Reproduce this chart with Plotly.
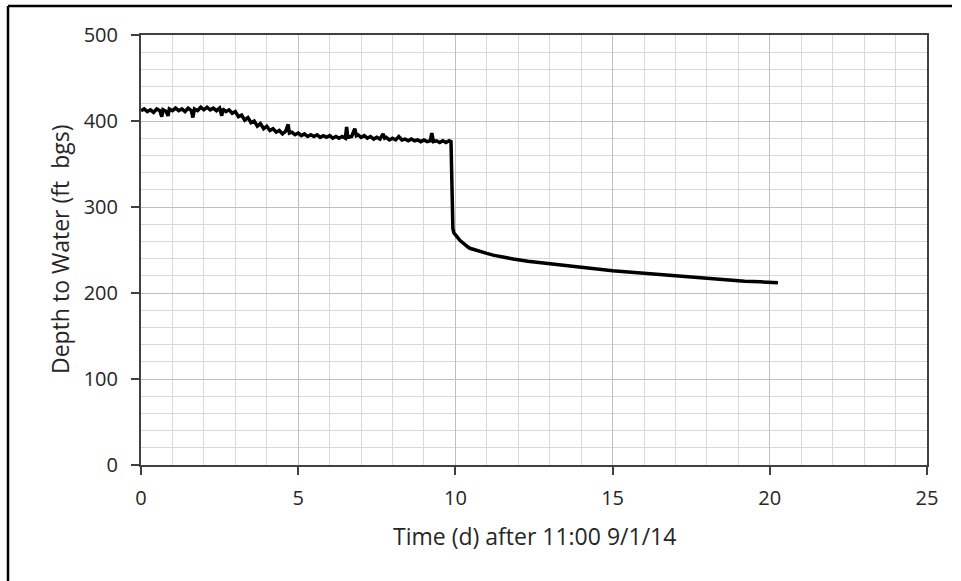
import plotly.graph_objects as go

# Time (days after 11:00 9/1/14)
time_d = [
    0.00, 0.10, 0.20, 0.30, 0.40, 0.50, 0.60, 0.66, 0.70, 0.80, 0.86, 0.90,
    1.00, 1.10, 1.20, 1.30, 1.40, 1.50, 1.60, 1.65, 1.70, 1.80, 1.90,
    2.00, 2.10, 2.20, 2.30, 2.40, 2.50, 2.57, 2.60, 2.70, 2.80, 2.90,
    3.00, 3.10, 3.20, 3.30, 3.40, 3.50, 3.60, 3.70, 3.80, 3.90,
    4.00, 4.10, 4.20, 4.30, 4.40, 4.50, 4.60, 4.68, 4.72, 4.80, 4.90,
    5.00, 5.10, 5.20, 5.30, 5.40, 5.50, 5.60, 5.70, 5.80, 5.90,
    6.00, 6.10, 6.20, 6.30, 6.40, 6.50, 6.54, 6.58, 6.70, 6.80, 6.85, 6.90,
    7.00, 7.10, 7.20, 7.30, 7.40, 7.50, 7.60, 7.70, 7.75, 7.80, 7.90,
    8.00, 8.10, 8.20, 8.30, 8.40, 8.50, 8.60, 8.70, 8.80, 8.90,
    9.00, 9.10, 9.20, 9.25, 9.30, 9.40, 9.50, 9.60, 9.70, 9.80, 9.86,
    9.88, 9.90, 9.92, 9.95, 10.00, 10.08, 10.15, 10.22, 10.30, 10.38,
    10.46, 10.58, 10.70, 10.85,
    11.00, 11.20, 11.40, 11.60, 11.84, 12.30, 12.90, 13.33, 13.85, 14.40,
    15.00, 15.50, 16.00, 16.50, 17.00, 17.50, 18.00, 18.60,
    19.20, 19.70, 20.20, 20.26,
]

# Depth to water (ft bgs)
depth_ft = [
    412, 414, 411, 413, 410, 414, 412, 405, 413, 411, 406, 414,
    412, 415, 412, 414, 411, 415, 412, 404, 414, 412, 416,
    413, 416, 413, 415, 412, 415, 406, 414, 411, 413, 409,
    411, 405, 407, 401, 404, 398, 400, 394, 397, 391,
    394, 389, 391, 387, 389, 385, 388, 396, 386, 387, 384,
    386, 383, 385, 382, 384, 382, 384, 381, 383, 381,
    383, 380, 382, 380, 382, 380, 393, 381, 382, 391, 383, 384,
    381, 383, 380, 382, 379, 381, 379, 385, 380, 381, 378,
    380, 378, 382, 378, 379, 377, 379, 377, 378, 376,
    378, 376, 377, 386, 376, 377, 375, 377, 375, 377, 376,
    330, 285, 275, 270, 267, 264, 261, 258.5, 256, 254,
    252, 250.5, 249, 247.5,
    246, 244, 242.5, 241, 239.5, 237, 234.5, 232, 230, 228,
    226, 224.5, 223, 221.5, 220, 218.5, 217, 215,
    213.8, 213, 212.4, 212,
]

x_ticks = [0, 5, 10, 15, 20, 25]
y_ticks = [0, 100, 200, 300, 400, 500]

W, H = 961, 581
L, R, T, B = 141, 34, 35, 116
pw, ph = W - L - R, H - T - B


def px_x(p):
    return (p - L) / pw


def px_y(p):
    return (H - B - p) / ph


fig = go.Figure()
fig.add_trace(go.Scatter(
    x=time_d, y=depth_ft, mode="lines",
    line=dict(color="black", width=3.5),
    showlegend=False, hoverinfo="x+y",
))

font_family = "Open Sans, DejaVu Sans, sans-serif"
txt = "#262626"

fig.update_layout(
    width=W, height=H,
    margin=dict(l=L, r=R, t=T, b=B, pad=0),
    paper_bgcolor="white", plot_bgcolor="white",
    font=dict(family=font_family, size=20, color=txt),
    xaxis=dict(
        range=[0, 25], tickvals=x_ticks, ticktext=[str(v) for v in x_ticks],
        showgrid=True, gridcolor="#bfbfbf", gridwidth=1,
        minor=dict(dtick=1, showgrid=True, gridcolor="#d9d9d9", gridwidth=1, ticks=""),
        showline=True, linecolor="#404040", linewidth=2, mirror=True,
        ticks="outside", ticklen=8, tickcolor="#404040", tickwidth=1.5,
        ticklabelstandoff=6, zeroline=False,
        tickfont=dict(size=20, color=txt),
    ),
    yaxis=dict(
        range=[0, 500], tickvals=y_ticks, ticktext=[str(v) for v in y_ticks],
        showgrid=True, gridcolor="#bfbfbf", gridwidth=1,
        minor=dict(dtick=20, showgrid=True, gridcolor="#d9d9d9", gridwidth=1, ticks=""),
        showline=True, linecolor="#404040", linewidth=2, mirror=True,
        ticks="outside", ticklen=8, tickcolor="#404040", tickwidth=1.5,
        ticklabelstandoff=9, zeroline=False,
        tickfont=dict(size=20, color=txt),
    ),
    annotations=[
        dict(text="Time (d) after 11:00 9/1/14", xref="paper", yref="paper",
             x=px_x(534), y=px_y(536), xanchor="center", yanchor="middle",
             showarrow=False, font=dict(size=23, color=txt, family=font_family)),
        dict(text="Depth to Water (ft  bgs)", xref="paper", yref="paper",
             x=px_x(60), y=px_y(250), xanchor="center", yanchor="middle",
             textangle=-90, showarrow=False,
             font=dict(size=23, color=txt, family=font_family)),
    ],
    shapes=[
        dict(type="line", xref="paper", yref="paper",
             x0=px_x(8), x1=px_x(8), y0=px_y(6), y1=px_y(590),
             line=dict(color="black", width=2.5)),
        dict(type="line", xref="paper", yref="paper",
             x0=px_x(8), x1=px_x(952), y0=px_y(6), y1=px_y(6),
             line=dict(color="black", width=2.5)),
    ],
)

fig.write_html(
    "out.html",
    config={"displayModeBar": False},
    post_script="document.body.style.margin='0';document.body.style.overflow='hidden';",
)
